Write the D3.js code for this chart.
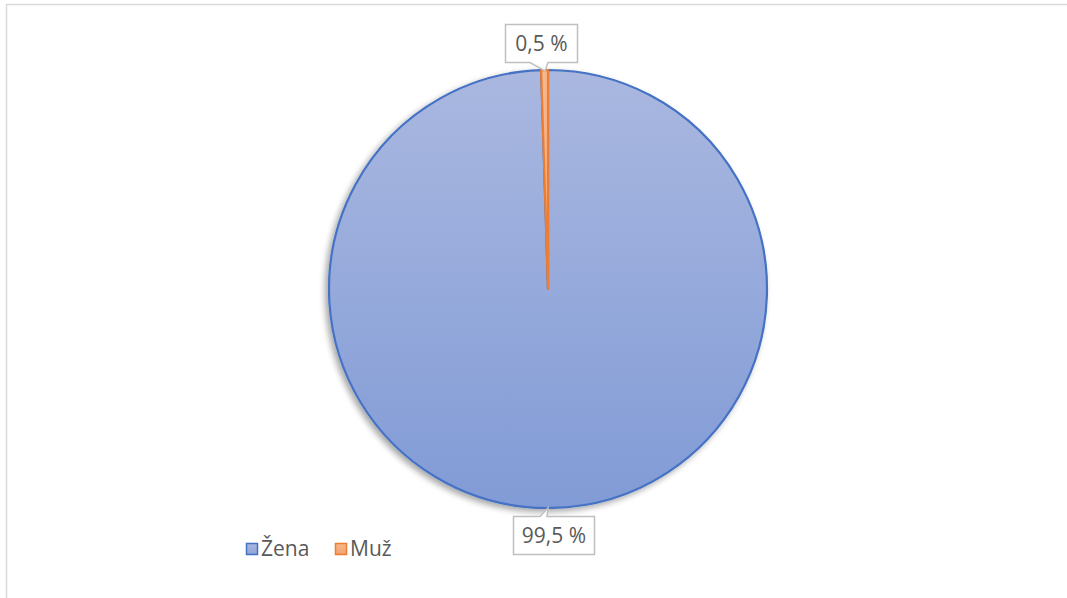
<!DOCTYPE html>
<html>
<head>
<meta charset="utf-8">
<script src="https://cdn.jsdelivr.net/npm/d3@7"></script>
<style>
  body { margin: 0; background: #fff; }
  svg { display: block; font-family: "Open Sans", sans-serif; }
</style>
</head>
<body>
<div id="chart"></div>
<script>
// data
const categories = ['Žena', 'Muž'];
const values = [99.5, 0.5];
const valueLabels = ['99,5 %', '0,5 %'];

const fills = ['url(#gradBlue)', 'url(#gradOrange)'];
const strokes = ['#4472c4', '#ed7d31'];

const W = 1067, H = 598;
const cx = 548, cy = 289, r = 219;

const svg = d3.select('#chart').append('svg')
  .attr('width', W).attr('height', H);

const defs = svg.append('defs');
// gradients in the pie group's coordinates (centred on 0,0)
const gb = defs.append('linearGradient').attr('id', 'gradBlue')
  .attr('gradientUnits', 'userSpaceOnUse')
  .attr('x1', 0).attr('y1', -r).attr('x2', 0).attr('y2', r);
gb.append('stop').attr('offset', '0%').attr('stop-color', '#aab8e0');
gb.append('stop').attr('offset', '100%').attr('stop-color', '#819bd6');
const go = defs.append('linearGradient').attr('id', 'gradOrange')
  .attr('gradientUnits', 'userSpaceOnUse')
  .attr('x1', 0).attr('y1', -r).attr('x2', 0).attr('y2', r);
go.append('stop').attr('offset', '0%').attr('stop-color', '#f6b88f');
go.append('stop').attr('offset', '100%').attr('stop-color', '#f09a62');

const gbl = defs.append('linearGradient').attr('id', 'legBlue')
  .attr('x1', 0).attr('y1', 0).attr('x2', 0).attr('y2', 1);
gbl.append('stop').attr('offset', '0%').attr('stop-color', '#aab8e0');
gbl.append('stop').attr('offset', '100%').attr('stop-color', '#8ea3d9');
const gol = defs.append('linearGradient').attr('id', 'legOrange')
  .attr('x1', 0).attr('y1', 0).attr('x2', 0).attr('y2', 1);
gol.append('stop').attr('offset', '0%').attr('stop-color', '#f6b88f');
gol.append('stop').attr('offset', '100%').attr('stop-color', '#f2a16d');

const shadow = defs.append('filter').attr('id', 'shadow')
  .attr('x', '-10%').attr('y', '-10%').attr('width', '120%').attr('height', '120%');
shadow.append('feGaussianBlur').attr('in', 'SourceAlpha').attr('stdDeviation', 3);
shadow.append('feOffset').attr('dx', -3).attr('dy', 3).attr('result', 'off');
shadow.append('feComponentTransfer').append('feFuncA').attr('type', 'linear').attr('slope', 0.35);
const merge = shadow.append('feMerge');
merge.append('feMergeNode');
merge.append('feMergeNode').attr('in', 'SourceGraphic');

// chart frame (top and left lines visible)
svg.append('path')
  .attr('d', `M6.5,${H} L6.5,4.5 L${W},4.5`)
  .attr('fill', 'none').attr('stroke', '#d9d9d9').attr('stroke-width', 1.5);

const pie = d3.pie().sort(null).value(d => d)(values);
const arc = d3.arc().innerRadius(0).outerRadius(r);

const g = svg.append('g').attr('transform', `translate(${cx},${cy})`)
  .attr('filter', 'url(#shadow)');
g.selectAll('path.slice')
  .data(pie)
  .enter().append('path')
  .attr('class', 'slice')
  .attr('d', arc)
  .attr('fill', (d, i) => fills[i])
  .attr('stroke', (d, i) => strokes[i])
  .attr('stroke-width', 2.2)
  .attr('stroke-linejoin', 'round');

// data label callouts
function callout(text, bx, by, bw, bh, pointer) {
  const lg = svg.append('g');
  let d;
  const x0 = bx, x1 = bx + bw, y0 = by, y1 = by + bh;
  if (pointer.side === 'bottom') {
    d = `M${x0},${y0} L${x1},${y0} L${x1},${y1} L${pointer.b2},${y1} L${pointer.tx},${pointer.ty} L${pointer.b1},${y1} L${x0},${y1} Z`;
  } else {
    d = `M${x0},${y0} L${pointer.b1},${y0} L${pointer.tx},${pointer.ty} L${pointer.b2},${y0} L${x1},${y0} L${x1},${y1} L${x0},${y1} Z`;
  }
  lg.append('path').attr('d', d)
    .attr('fill', '#fff').attr('stroke', '#bfbfbf').attr('stroke-width', 1.5);
  lg.append('text')
    .attr('x', bx + bw / 2).attr('y', by + bh / 2)
    .attr('dy', '0.35em')
    .attr('text-anchor', 'middle')
    .attr('font-size', 21)
    .attr('fill', '#595959')
    .text(text);
}

callout(valueLabels[1], 505.5, 24.5, 72, 38, { side: 'bottom', b1: 530, b2: 548, tx: 545, ty: 71 });
callout(valueLabels[0], 513.5, 516.5, 81, 38, { side: 'top', b1: 540, b2: 547, tx: 548, ty: 508 });

// legend
const legendFills = ['url(#legBlue)', 'url(#legOrange)'];
const legendX = [246, 335];
const legend = svg.selectAll('.legend')
  .data(categories)
  .enter().append('g')
  .attr('class', 'legend')
  .attr('transform', (d, i) => `translate(${legendX[i]},543)`);
legend.append('rect')
  .attr('x', 0.5).attr('y', 0.5).attr('width', 11).attr('height', 11)
  .attr('fill', (d, i) => legendFills[i])
  .attr('stroke', (d, i) => strokes[i]).attr('stroke-width', 1.5);
legend.append('text')
  .attr('x', 15).attr('y', 6).attr('dy', '0.35em')
  .attr('font-size', 21).attr('fill', '#595959')
  .text(d => d);
</script>
</body>
</html>
